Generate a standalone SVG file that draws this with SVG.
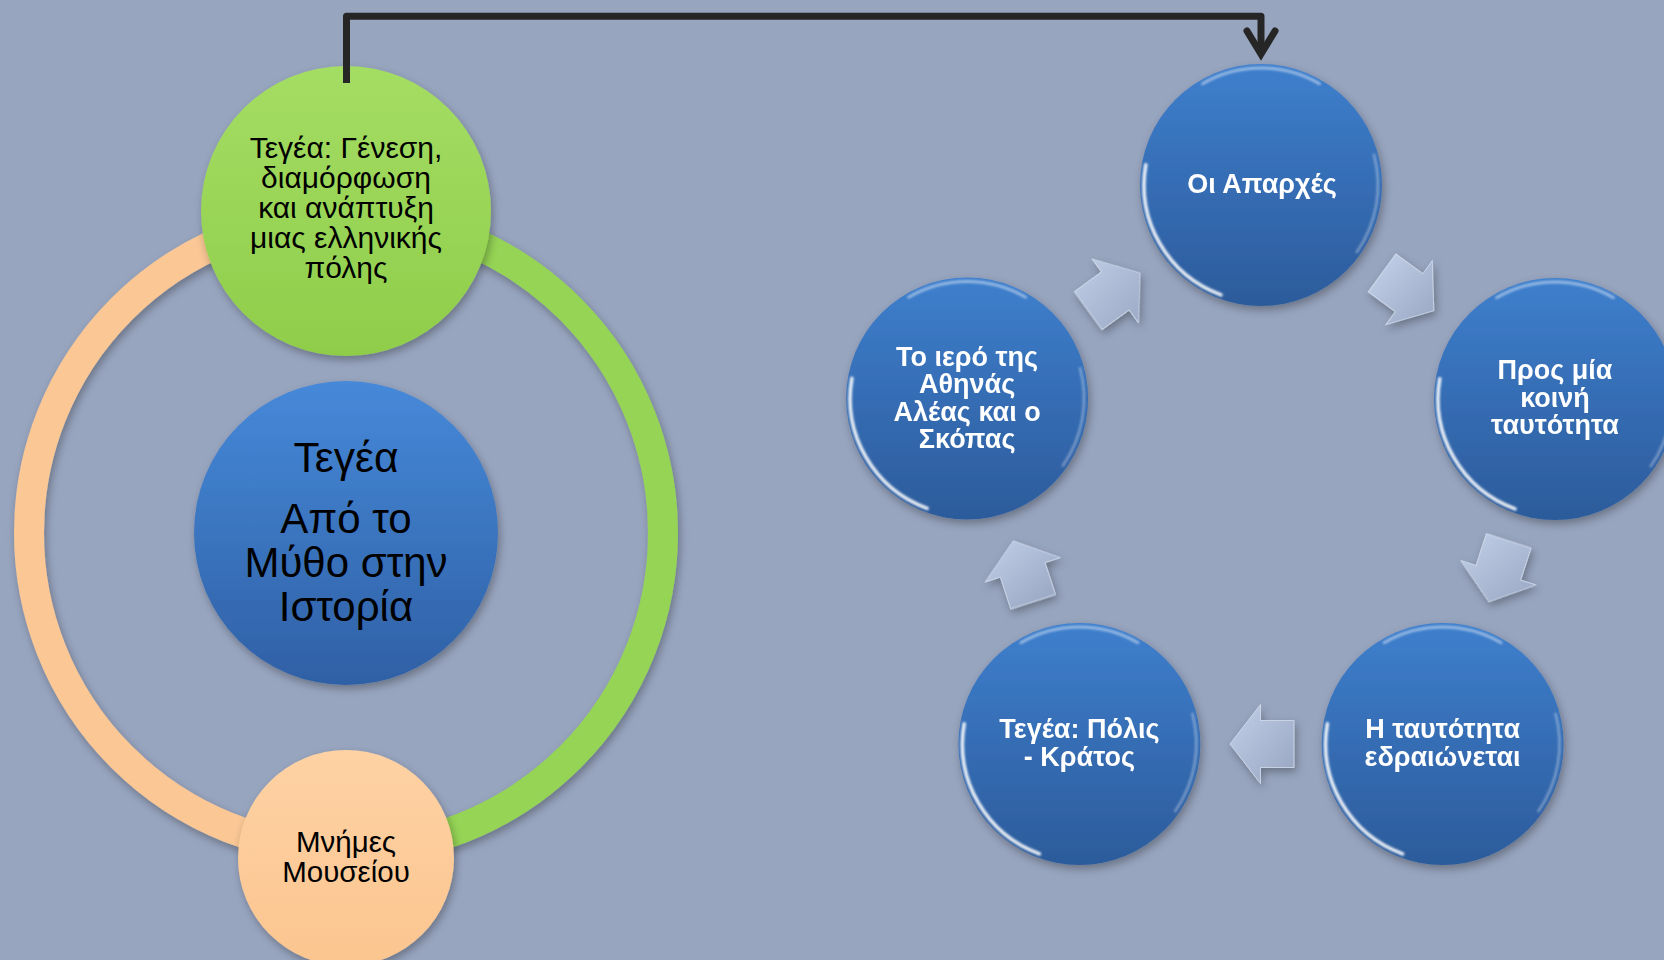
<svg xmlns="http://www.w3.org/2000/svg" xmlns:xlink="http://www.w3.org/1999/xlink" width="1664" height="960" viewBox="0 0 1664 960">
<style>
.lbl{font-family:"Liberation Sans",Arial,"DejaVu Sans",sans-serif;text-anchor:middle;fill:#000}
.wl{font-family:"Liberation Sans",Arial,"DejaVu Sans",sans-serif;text-anchor:middle;fill:#fff;font-weight:bold;font-size:27px}
.hl{fill:none;stroke:#fff;stroke-linecap:round}
.arw{stroke:#DCE4F2;stroke-width:1;stroke-opacity:.7}
</style>
<defs>
<linearGradient id="gBlue" x1="0" y1="0" x2="0" y2="1"><stop offset="0" stop-color="#3E7FCD"/><stop offset="1" stop-color="#2C5B9B"/></linearGradient>
<linearGradient id="gCenter" x1="0" y1="0" x2="0" y2="1"><stop offset="0" stop-color="#4689D9"/><stop offset="1" stop-color="#2F60A5"/></linearGradient>
<linearGradient id="gGreen" x1="0" y1="0" x2="0" y2="1"><stop offset="0" stop-color="#A4DD63"/><stop offset="1" stop-color="#8FCD4A"/></linearGradient>
<linearGradient id="gPeach" x1="0" y1="0" x2="0" y2="1"><stop offset="0" stop-color="#FED2A4"/><stop offset="1" stop-color="#FBC58F"/></linearGradient>
<linearGradient id="a0" x1="0.006" y1="0.422" x2="0.994" y2="0.578"><stop offset="0" stop-color="#BCC9E2"/><stop offset="1" stop-color="#9DABC7"/></linearGradient>
<linearGradient id="a1" x1="0.273" y1="0.946" x2="0.727" y2="0.054"><stop offset="0" stop-color="#BCC9E2"/><stop offset="1" stop-color="#9DABC7"/></linearGradient>
<linearGradient id="a2" x1="0.854" y1="0.854" x2="0.146" y2="0.146"><stop offset="0" stop-color="#BCC9E2"/><stop offset="1" stop-color="#9DABC7"/></linearGradient>
<linearGradient id="a3" x1="0.946" y1="0.273" x2="0.054" y2="0.727"><stop offset="0" stop-color="#BCC9E2"/><stop offset="1" stop-color="#9DABC7"/></linearGradient>
<linearGradient id="a4" x1="0.422" y1="0.006" x2="0.578" y2="0.994"><stop offset="0" stop-color="#BCC9E2"/><stop offset="1" stop-color="#9DABC7"/></linearGradient>
<filter id="shadow" x="-20%" y="-20%" width="140%" height="140%"><feDropShadow dx="2" dy="4" stdDeviation="4" flood-color="#000" flood-opacity="0.3"/></filter>
<filter id="soft" x="-20%" y="-20%" width="140%" height="140%"><feGaussianBlur stdDeviation="1.2"/></filter>
<marker id="openArrow" markerUnits="userSpaceOnUse" orient="auto" refX="0" refY="0" markerWidth="60" markerHeight="60" overflow="visible"><path d="M-23,-14 L0,0 L-23,14" fill="none" stroke="#262626" stroke-width="7" stroke-linecap="round" stroke-linejoin="miter"/></marker>
<g id="bnode">
<circle r="121" fill="url(#gBlue)" filter="url(#shadow)"/>
<g filter="url(#soft)">
<path class="hl" d="M-40,109.9 A117,117 0 0 1 -115.2,-20.3" stroke-width="3.5" stroke-opacity="0.9"/>
<path class="hl" d="M-58.5,-101.3 A117,117 0 0 1 58.5,-101.3" stroke-width="3" stroke-opacity="0.45"/>
<path class="hl" d="M113,-30.3 A117,117 0 0 1 95.8,67.1" stroke-width="2.5" stroke-opacity="0.35"/>
</g>
</g>
<polygon id="arrowShape" points="-32,-23.5 1.5,-23.5 1.5,-39.5 32,0 1.5,39.5 1.5,23.5 -32,23.5"/>
</defs>

<rect width="1664" height="960" fill="#98A5BF"/>

<g id="ring" filter="url(#shadow)">
<path d="M346,216 A317,317 0 0 1 346,850" fill="none" stroke="#95D455" stroke-width="30"/>
<path d="M346,850 A317,317 0 0 1 346,216" fill="none" stroke="#FAC795" stroke-width="30"/>
</g>

<g id="node-center">
<circle cx="346" cy="533" r="152" fill="url(#gCenter)" filter="url(#shadow)"/>
<text class="lbl" font-size="42.5" x="346" y="471.5">Τεγέα</text>
<text class="lbl" font-size="42" x="346" y="532.5">Από το</text>
<text class="lbl" font-size="42" x="346" y="576.5">Μύθο στην</text>
<text class="lbl" font-size="42" x="346" y="620.5">Ιστορία</text>
</g>

<g id="node-genesis">
<circle cx="346" cy="211" r="145" fill="url(#gGreen)" filter="url(#shadow)"/>
<text class="lbl" font-size="30" x="346" y="158">Τεγέα: Γένεση,</text>
<text class="lbl" font-size="30" x="346" y="188">διαμόρφωση</text>
<text class="lbl" font-size="30" x="346" y="218">και ανάπτυξη</text>
<text class="lbl" font-size="30" x="346" y="248">μιας ελληνικής</text>
<text class="lbl" font-size="30" x="346" y="278">πόλης</text>
</g>

<g id="node-museum">
<circle cx="346" cy="858" r="108" fill="url(#gPeach)" filter="url(#shadow)"/>
<text class="lbl" font-size="29.5" x="346" y="852">Μνήμες</text>
<text class="lbl" font-size="29.5" x="346" y="882">Μουσείου</text>
</g>

<g id="cycle-arrows" filter="url(#shadow)">
<use xlink:href="#arrowShape" href="#arrowShape" class="arw" fill="url(#a0)" transform="translate(1407.9,291.8) rotate(36)"/>
<use xlink:href="#arrowShape" href="#arrowShape" class="arw" fill="url(#a1)" transform="translate(1498.8,571.3) rotate(108)"/>
<use xlink:href="#arrowShape" href="#arrowShape" class="arw" fill="url(#a2)" transform="translate(1262,744) rotate(180)"/>
<use xlink:href="#arrowShape" href="#arrowShape" class="arw" fill="url(#a3)" transform="translate(1023.2,571.3) rotate(252)"/>
<use xlink:href="#arrowShape" href="#arrowShape" class="arw" fill="url(#a4)" transform="translate(1114.1,291.8) rotate(324)"/>
</g>

<g id="node-aparches" transform="translate(1261,185)">
<use xlink:href="#bnode" href="#bnode"/>
<text class="wl" x="1" y="8">Οι Απαρχές</text>
</g>

<g id="node-tautotita" transform="translate(1555,399)">
<use xlink:href="#bnode" href="#bnode"/>
<text class="wl" x="0" y="-20">Προς μία</text>
<text class="wl" x="0" y="7.5">κοινή</text>
<text class="wl" x="0" y="35">ταυτότητα</text>
</g>

<g id="node-edraionetai" transform="translate(1442.6,744)">
<use xlink:href="#bnode" href="#bnode"/>
<text class="wl" x="0" y="-6">Η ταυτότητα</text>
<text class="wl" x="0" y="21.5">εδραιώνεται</text>
</g>

<g id="node-polis" transform="translate(1079.4,744)">
<use xlink:href="#bnode" href="#bnode"/>
<text class="wl" x="0" y="-6">Τεγέα: Πόλις</text>
<text class="wl" x="0" y="21.5">- Κράτος</text>
</g>

<g id="node-iero" transform="translate(967.1,398.5)">
<use xlink:href="#bnode" href="#bnode"/>
<text class="wl" x="0" y="-32.5">Το ιερό της</text>
<text class="wl" x="0" y="-5.2">Αθηνάς</text>
<text class="wl" x="0" y="22.2">Αλέας και ο</text>
<text class="wl" x="0" y="49.5">Σκόπας</text>
</g>

<g id="connectors">
<path d="M346.5,83 V16.3 H1261 V54" fill="none" stroke="#262626" stroke-width="7" stroke-linejoin="round" marker-end="url(#openArrow)"/>
</g>
</svg>
